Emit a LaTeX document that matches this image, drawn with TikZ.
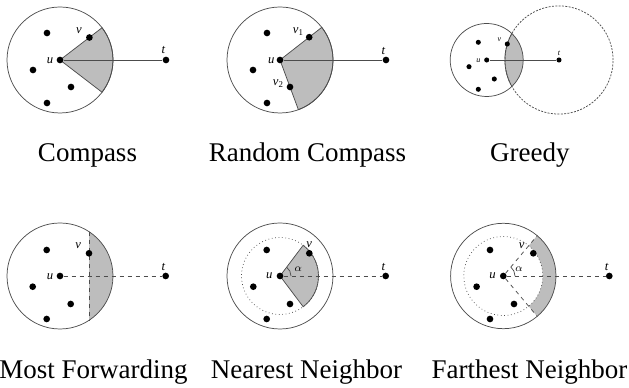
\documentclass[tikz,border=0pt]{standalone}
\usepackage{fontspec}
\setmainfont{Liberation Serif}
\usetikzlibrary{calc,positioning}
\definecolor{sectorgray}{gray}{0.74}
\definecolor{rimgray}{gray}{0.3}

\begin{document}
\begin{tikzpicture}[x=0.75pt,y=0.75pt]
        \tikzstyle{point}=[circle,fill,inner sep=0pt, minimum width=5pt, minimum height=5pt]
        \tikzstyle{smallpoint}=[circle,fill,inner sep=0pt, minimum width=3.8pt, minimum height=3.8pt]
        \tikzstyle{lbl}=[inner sep=0pt,font=\fontsize{9.5}{11}\selectfont\itshape]
        \tikzstyle{tinylbl}=[inner sep=0pt,font=\fontsize{6}{7}\selectfont\itshape]
        \tikzstyle{caption}=[anchor=base,inner sep=0pt,font=\fontsize{20.25}{24}\selectfont]
        \tikzstyle{rim}=[rimgray,line width=0.55pt]
        \tikzstyle{shade}=[fill=sectorgray,draw=rimgray,line width=0.55pt]
        \useasboundingbox (0,0) rectangle (629,388);

        \begin{scope}[shift={(60,328)}]
            % Sector towards t
            \filldraw[shade] (0,0) -- (37.5:53) arc[start angle=37.5,end angle=-37.5,radius=53] -- cycle;
            \draw[rim] (0,0) circle (53);

            % Sites
            \node (u)[point] at (0,0) {};
            \node (v)[point] at (29.4,22.5) {};
            \node (t)[point] at (106,0) {};
            \node (a)[point] at (-13,27) {};
            \node (b)[point] at (-27,-10) {};
            \node (c)[point] at (11,-27) {};
            \node (d)[point] at (-13,-43) {};
            \draw[rim] (u) -- (t);

            % Labels
            \node (ulab)[lbl] at (-10,-1) {u};
            \node (vlab)[lbl] at (19,29.3) {v};
            \node (tlab)[lbl] at (103.3,10) {t};
        \end{scope}

        \begin{scope}[shift={(280,328)}]
            % Sector between v1 and v2
            \filldraw[shade] (0,0) -- (38:53) arc[start angle=38,end angle=-69.7,radius=53] -- cycle;
            \draw[rim] (0,0) circle (53);

            % Sites
            \node (u)[point] at (0,0) {};
            \node (v1)[point] at (29.2,22.8) {};
            \node (v2)[point] at (10,-27) {};
            \node (t)[point] at (106,0) {};
            \node (a)[point] at (-13,27) {};
            \node (b)[point] at (-27,-10) {};
            \node (d)[point] at (-13,-43) {};
            \draw[rim] (u) -- (t);

            % Labels
            \node (ulab)[lbl] at (-8.8,-1) {u};
            \node (v1lab)[lbl] at (18.3,28.3) {v\textsubscript{\upshape 1}};
            \node (v2lab)[lbl] at (-1.7,-23.3) {v\textsubscript{\upshape 2}};
            \node (tlab)[lbl] at (103.3,9.3) {t};
        \end{scope}

        \begin{scope}[shift={(486.7,328)}]
            % Lens: closer to t than u
            \begin{scope}
                \clip (0,0) circle (36.5);
                \fill[sectorgray] (72.3,0) circle (54.1);
            \end{scope}
            \draw[rim] (0,0) circle (36.5);
            \draw[rim,dash pattern=on 1.5pt off 1pt] (72.3,0) circle (54.1);
            \draw[rim] ($(72.3,0)+(150.7:54.1)$) arc[start angle=150.7,end angle=209.3,radius=54.1];

            % Sites
            \node (u)[smallpoint] at (0,0) {};
            \node (v)[smallpoint] at (20.6,16) {};
            \node (t)[smallpoint] at (72.3,0) {};
            \node (a)[smallpoint] at (-8.4,17.7) {};
            \node (b)[smallpoint] at (-17.7,-6.7) {};
            \node (c)[smallpoint] at (7.6,-19) {};
            \node (d)[smallpoint] at (-8.4,-29.3) {};
            \draw[rim] (u) -- (t);

            % Labels
            \node (ulab)[tinylbl] at (-8.4,-1) {u};
            \node (vlab)[tinylbl] at (12.6,20) {v};
            \node (tlab)[tinylbl] at (72.3,6.7) {t};
        \end{scope}

        \begin{scope}[shift={(60,112)}]
            % Segment beyond v
            \begin{scope}
                \clip (0,0) circle (53);
                \fill[sectorgray] (29,-53) rectangle (53,53);
            \end{scope}
            \draw[rim] (0,0) circle (53);
            \coordinate (cuttop) at (29,44.3);
            \coordinate (cutbot) at (29,-44.3);
            \draw[rim,dashed] (cuttop) -- (cutbot);

            % Sites
            \node (u)[point] at (0,0) {};
            \node (v)[point] at (29,22.7) {};
            \node (t)[point] at (105.7,0) {};
            \node (a)[point] at (-13.3,26) {};
            \node (b)[point] at (-27.3,-10.7) {};
            \node (c)[point] at (10.7,-28) {};
            \node (d)[point] at (-13.3,-43) {};
            \draw[rim,dashed] (u) -- (t);

            % Labels
            \node (ulab)[lbl] at (-10,-0.7) {u};
            \node (vlab)[lbl] at (18.3,30) {v};
            \node (tlab)[lbl] at (103.3,9.3) {t};
        \end{scope}

        \begin{scope}[shift={(280,112)}]
            % Sector of angle alpha, radius |uv|
            \filldraw[shade] (0,0) -- (53:38.5) arc[start angle=53,end angle=-53,radius=38.5] -- cycle;
            \draw[rim] (0,0) circle (53);
            \draw[rim,dotted] (0,0) circle (38.5);
            \draw[rim] (11,0) arc[start angle=0,end angle=53,radius=11];

            % Sites
            \node (u)[point] at (0,0) {};
            \node (v)[point] at (29.3,22.7) {};
            \node (t)[point] at (105.7,0) {};
            \node (a)[point] at (-13.3,26) {};
            \node (b)[point] at (-26.7,-10.7) {};
            \node (c)[point] at (10,-28) {};
            \node (d)[point] at (-13.3,-43) {};
            \draw[rim,dashed] (u) -- (t);

            % Labels
            \node (ulab)[lbl] at (-10.7,0) {u};
            \node (vlab)[lbl] at (29.3,31) {v};
            \node (tlab)[lbl] at (103.3,9.3) {t};
            \node (alab)[inner sep=0pt,font=\fontsize{8.5}{10}\selectfont] at (18.3,6.7) {$\alpha$};
        \end{scope}

        \begin{scope}[shift={(503.3,112)}]
            % Band beyond |uv| inside the angle
            \fill[sectorgray] (50:39.5) arc[start angle=50,end angle=-50,radius=39.5]
                -- (-50:52.7) arc[start angle=-50,end angle=50,radius=52.7] -- cycle;
            \draw[rim] (0,0) circle (52.7);
            \draw[rim,dotted] (0,0) circle (39.5);
            \draw[rim] (11.7,0) arc[start angle=0,end angle=50,radius=11.7];
            \coordinate (rayhi) at (50:52.7);
            \coordinate (raylo) at (-50:52.7);

            % Sites
            \node (u)[point] at (0,0) {};
            \node (v)[point] at (30,22.7) {};
            \node (t)[point] at (106,0) {};
            \node (a)[point] at (-13.3,26) {};
            \node (b)[point] at (-26.7,-10.7) {};
            \node (c)[point] at (10.7,-28) {};
            \node (d)[point] at (-13.3,-43) {};
            \draw[rim,dashed] (u) -- (t);
            \draw[rim,dashed] (u) -- (rayhi);
            \draw[rim,dashed] (u) -- (raylo);

            % Labels
            \node (ulab)[lbl] at (-10.7,0) {u};
            \node (vlab)[lbl] at (18.3,30.3) {v};
            \node (tlab)[lbl] at (103.3,9.3) {t};
            \node (alab)[inner sep=0pt,font=\fontsize{8.5}{10}\selectfont] at (15.7,6.7) {$\alpha$};
        \end{scope}

        % Captions
        \node (capA)[caption] at (87.5,226.3) {Compass};
        \node (capB)[caption] at (307.5,226.3) {Random Compass};
        \node (capC)[caption] at (529.8,226.3) {Greedy};
        \node (capD)[caption] at (93.5,9) {Most Forwarding};
        \node (capE)[caption] at (306.5,9) {Nearest Neighbor};
        \node (capF)[caption] at (529.5,9) {Farthest Neighbor};
    \end{tikzpicture}
\end{document}
